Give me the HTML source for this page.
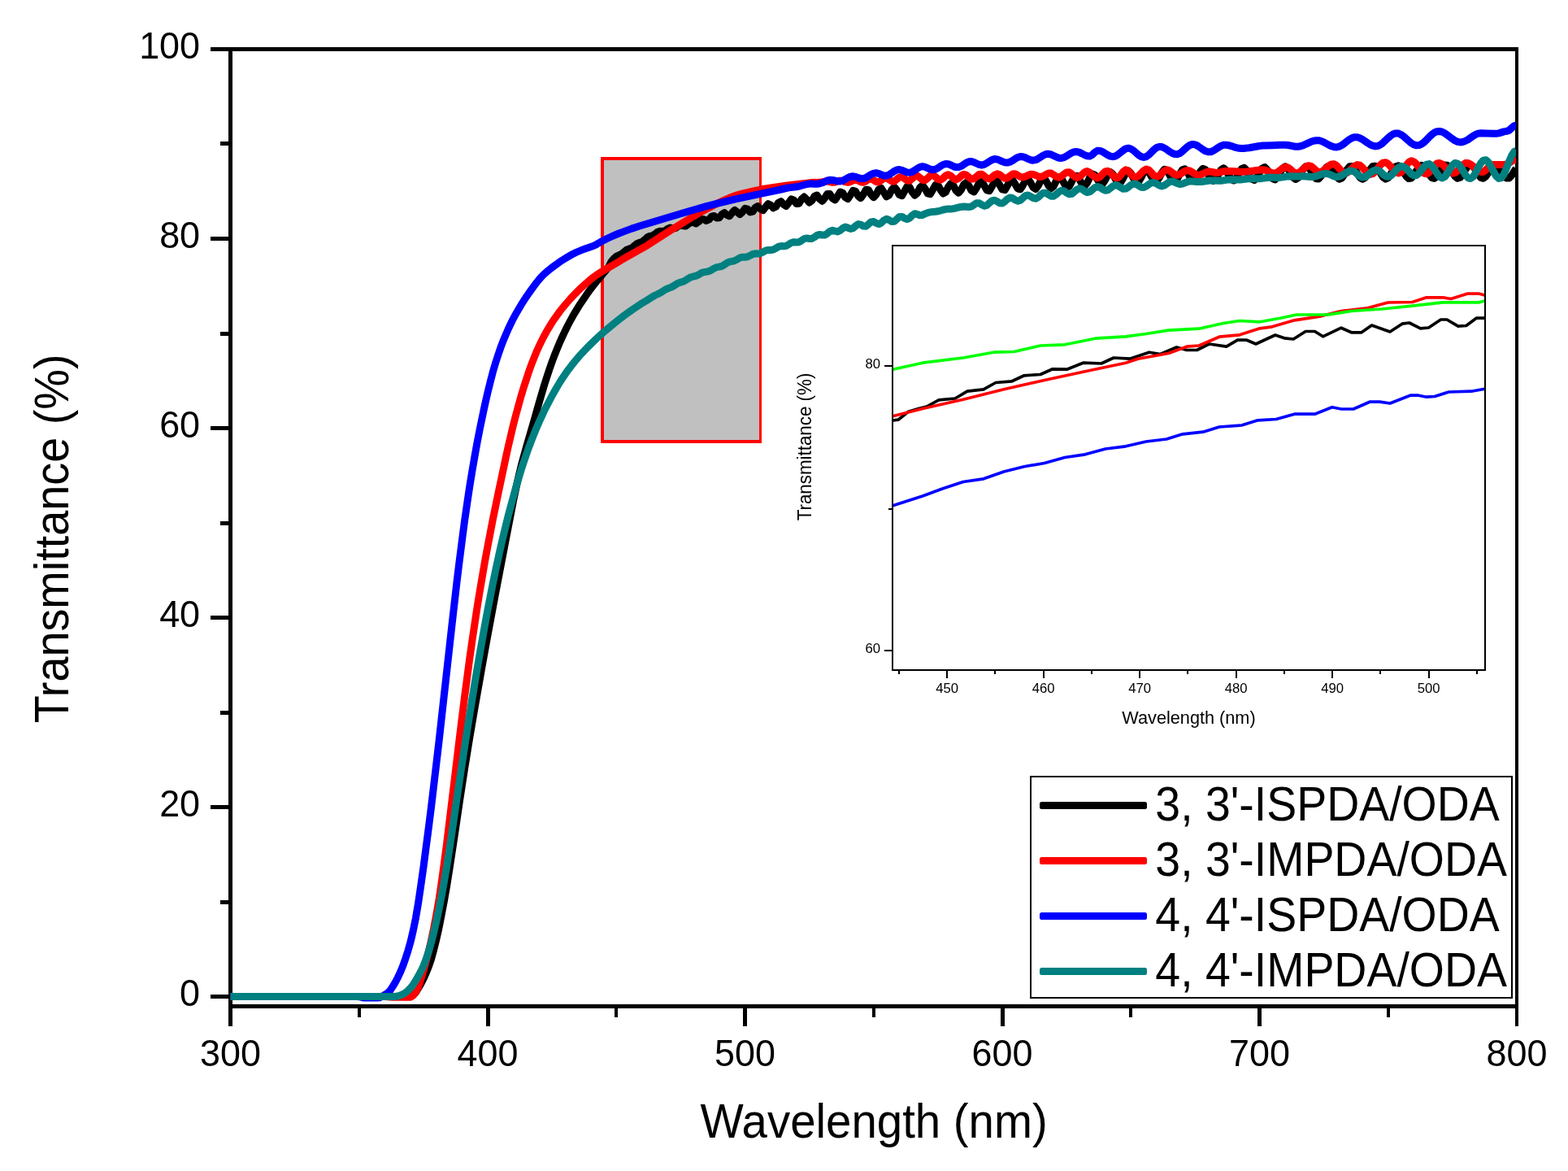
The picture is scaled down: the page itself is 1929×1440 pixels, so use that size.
<!DOCTYPE html>
<html lang="en">
<head>
<meta charset="utf-8">
<title>Transmittance vs Wavelength</title>
<style>
html,body{margin:0;padding:0;background:#ffffff;}
body{width:1929px;height:1440px;overflow:hidden;font-family:"Liberation Sans",sans-serif;}
svg{display:block;}
text{font-family:"Liberation Sans",sans-serif;}
</style>
</head>
<body>
<svg width="1929" height="1440" viewBox="0 0 1929 1440" font-family="Liberation Sans, sans-serif">
<defs><clipPath id="plotclip"><rect x="283" y="60" width="1582" height="1178"/></clipPath></defs>
<rect x="0" y="0" width="1929" height="1440" fill="#ffffff"/>
<g shape-rendering="crispEdges"><rect x="739" y="193" width="198" height="352" fill="#ff0000"/><rect x="743" y="197" width="191" height="344" fill="#c0c0c0"/></g>
<g fill="#000000" shape-rendering="crispEdges">
<rect x="281" y="58" width="5" height="1204"/>
<rect x="259" y="58" width="1609" height="5"/>
<rect x="1864" y="58" width="4" height="1204"/>
<rect x="281" y="1235" width="1587" height="5"/>
<rect x="259" y="1223.1" width="23" height="5"/>
<rect x="271" y="1106.6" width="11" height="5"/>
<rect x="259" y="990.1" width="23" height="5"/>
<rect x="271" y="873.5" width="11" height="5"/>
<rect x="259" y="757.0" width="23" height="5"/>
<rect x="271" y="640.5" width="11" height="5"/>
<rect x="259" y="524.0" width="23" height="5"/>
<rect x="271" y="407.5" width="11" height="5"/>
<rect x="259" y="290.9" width="23" height="5"/>
<rect x="271" y="174.4" width="11" height="5"/>
<rect x="439.6" y="1238" width="4.4" height="12.5"/>
<rect x="597.5" y="1238" width="5" height="24"/>
<rect x="756.0" y="1238" width="4.4" height="12.5"/>
<rect x="914.0" y="1238" width="5" height="24"/>
<rect x="1072.5" y="1238" width="4.4" height="12.5"/>
<rect x="1230.5" y="1238" width="5" height="24"/>
<rect x="1389.0" y="1238" width="4.4" height="12.5"/>
<rect x="1547.0" y="1238" width="5" height="24"/>
<rect x="1705.5" y="1238" width="4.4" height="12.5"/>
</g>
<g fill="#000000">
<text transform="translate(246.05,1237.40) scale(1,1.05)" font-size="44.9" text-anchor="end">0</text>
<text transform="translate(246.05,1004.36) scale(1,1.05)" font-size="44.9" text-anchor="end">20</text>
<text transform="translate(246.05,771.32) scale(1,1.05)" font-size="44.9" text-anchor="end">40</text>
<text transform="translate(246.05,538.28) scale(1,1.05)" font-size="44.9" text-anchor="end">60</text>
<text transform="translate(246.05,305.24) scale(1,1.05)" font-size="44.9" text-anchor="end">80</text>
<text transform="translate(246.05,72.20) scale(1,1.05)" font-size="44.9" text-anchor="end">100</text>
<text transform="translate(283.50,1311.45) scale(1,1.05)" font-size="44.9" text-anchor="middle">300</text>
<text transform="translate(600.00,1311.45) scale(1,1.05)" font-size="44.9" text-anchor="middle">400</text>
<text transform="translate(916.50,1311.45) scale(1,1.05)" font-size="44.9" text-anchor="middle">500</text>
<text transform="translate(1233.00,1311.45) scale(1,1.05)" font-size="44.9" text-anchor="middle">600</text>
<text transform="translate(1549.50,1311.45) scale(1,1.05)" font-size="44.9" text-anchor="middle">700</text>
<text transform="translate(1866.00,1311.45) scale(1,1.05)" font-size="44.9" text-anchor="middle">800</text>
<text transform="translate(1075.10,1399.00) scale(1,1.05)" font-size="56.4" text-anchor="middle">Wavelength (nm)</text>
<text transform="translate(84.00,662.35) rotate(-90) scale(1,1.05)" font-size="55.8" text-anchor="middle">Transmittance (%)</text>
</g>
<g fill="none" stroke-width="9" stroke-linejoin="round" stroke-linecap="butt" clip-path="url(#plotclip)">
<path stroke="#000000" d="M283.5,1225.5L501.9,1225.5L505.1,1225.1L508.2,1223.4L511.4,1220.5L514.5,1215.4L517.7,1210L520.9,1203.8L524,1196.9L527.2,1189.1L530.4,1179.7L533.5,1168.5L536.7,1155.6L539.9,1141.4L543,1125.7L546.2,1108.8L549.4,1090.7L552.5,1071.2L558.9,1029.6L565.2,986.5L571.5,945.6L574.7,926L577.8,906.8L584.2,869.4L593.7,815.7L600,781L609.5,730.2L622.2,663.9L631.6,615.4L634.8,600.2L638,586.2L641.1,573.2L644.3,561.3L647.5,550L657,517.2L663.3,494.9L669.6,473.5L672.8,463.5L676,453.9L679.1,445L682.3,436.5L685.5,428.6L688.6,421.1L691.8,414.1L695,407.4L698.1,401L701.3,395L704.4,389.3L707.6,383.9L710.8,378.6L713.9,373.7L717.1,368.9L723.4,359.7L726.6,355.4L729.8,351.3L736.1,343.4L748.8,328.3L751.9,322L755.1,318.2L758.2,315.4L764.6,312.4L770.9,307.3L777.2,304.9L780.4,302.3L783.6,299.6L786.7,298.3L789.9,297.4L793.1,294.9L796.2,291.9L799.4,290.4L802.6,289.8L805.7,287.9L808.9,285.3L812.1,284.3L815.2,284.6L818.4,283.6L821.5,281.2L824.7,280.1L827.9,280.9L831,280.6L834.2,278.3L837.4,276.8L840.5,277.7L843.7,278L850,273.1L853.2,273.8L856.4,274.9L859.5,272.7L862.7,269.5L865.9,269.7L869,271.5L872.2,270L875.4,266.2L878.5,265.5L881.7,268.1L884.9,267.8L888,263.6L891.2,261.7L894.3,264.5L897.5,265.7L900.7,261.7L903.8,258.4L907,260.8L910.2,263.6L913.3,260.8L916.5,256.4L919.7,257.2L922.8,261L926,260.2L929.2,255.2L932.3,253.6L935.5,257L938.7,258.6L945,250.6L948.1,252.3L951.3,255.8L954.5,254.3L957.6,249.2L960.8,247.7L964,251.4L967.1,253.4L970.3,249.4L973.5,244.9L976.6,246.2L979.8,250.5L983,250.2L986.1,244.9L989.3,242.1L992.5,245.4L995.6,249L998.8,246.8L1002,241.2L1005.1,240.1L1008.3,244.6L1011.5,247.4L1014.6,243.7L1017.8,238.4L1020.9,238.6L1024.1,243.8L1027.3,245.9L1030.4,241.4L1033.6,236.1L1036.8,237.2L1039.9,242.7L1043.1,244.6L1046.3,239.8L1049.4,234.4L1052.6,235.4L1055.8,241.2L1058.9,243.6L1062.1,239.1L1065.3,233.3L1068.4,233.5L1071.6,239.3L1074.8,242.8L1077.9,239.2L1081.1,232.9L1084.2,231.5L1087.4,236.7L1090.6,241.7L1093.7,240L1096.9,233.5L1100.1,229.9L1103.2,233.5L1106.4,239.6L1109.6,240.7L1115.9,229.5L1119.1,230.2L1122.2,236.2L1125.4,240.2L1128.6,237.3L1131.7,230.7L1134.9,227.9L1138,231.9L1141.2,237.8L1144.4,238.7L1147.5,233.4L1150.7,227.6L1153.9,227.7L1157,233.4L1160.2,238L1163.4,236.3L1166.5,229.9L1169.7,225.7L1172.9,228.1L1176,234.2L1179.2,237.2L1182.4,233.6L1185.5,227.1L1188.7,224.5L1191.9,228.3L1195,234.3L1198.2,235.9L1201.3,231.3L1204.5,225.1L1207.7,223.5L1210.8,228.1L1214,233.8L1217.2,234.6L1220.3,229.5L1223.5,223.5L1226.7,222.6L1229.8,227.4L1233,232.9L1236.2,233.6L1239.3,228.4L1242.5,222.5L1245.7,221.5L1248.8,226.2L1252,231.9L1255.2,232.8L1258.3,228L1261.5,222L1264.7,220.3L1267.8,224.5L1271,230.5L1274.1,232.4L1277.3,228.3L1280.5,221.9L1283.6,219L1286.8,222.2L1290,228.4L1293.1,231.6L1296.3,228.8L1299.5,222.3L1302.6,217.9L1305.8,219.4L1309,225.3L1312.1,230.1L1315.3,229.3L1318.5,223.5L1321.6,217.5L1324.8,216.3L1328,220.6L1331.1,226.5L1334.3,228.7L1337.4,225.1L1340.6,218.4L1343.8,213.9L1346.9,215.1L1350.1,220.7L1353.3,225.8L1356.4,226.2L1359.6,221.2L1362.8,214.7L1365.9,211.6L1369.1,214.2L1372.3,220.2L1375.4,224.9L1378.6,224.4L1381.8,219L1384.9,212.7L1388.1,210.1L1391.2,213.1L1394.4,219.2L1397.6,223.9L1400.7,223.5L1403.9,218.3L1407.1,211.9L1410.2,209L1413.4,211.4L1416.6,217.3L1419.7,222.5L1422.9,223.1L1426.1,218.7L1429.2,212.4L1432.4,208.3L1435.6,209.4L1438.7,214.8L1441.9,220.7L1445.1,223L1448.2,220.1L1451.4,214.1L1454.5,208.8L1457.7,207.8L1460.9,211.8L1464,217.9L1467.2,222.2L1470.4,221.8L1473.5,217L1476.7,210.8L1479.9,207.3L1483,208.7L1486.2,214L1489.4,219.8L1492.5,222.4L1495.7,220.2L1502,208.9L1505.2,206.8L1508.4,209.5L1511.5,215.3L1514.7,220.5L1517.8,222L1521,218.8L1524.2,212.9L1527.3,207.7L1530.5,206.3L1533.7,209.5L1536.8,215.3L1540,220.3L1543.2,221.4L1546.3,218L1549.5,212.1L1552.7,207L1555.8,205.6L1559,208.7L1562.2,214.4L1565.3,219.4L1568.5,220.9L1571.7,218L1574.8,212.2L1578,206.9L1581.2,204.8L1584.3,207.1L1590.6,218L1593.8,220.5L1597,218.7L1600.1,213.6L1603.3,207.9L1606.5,204.7L1609.6,205.5L1612.8,210L1616,215.8L1619.1,219.8L1622.3,219.9L1625.5,216.2L1628.6,210.4L1631.8,205.7L1635,204.3L1638.1,206.9L1644.5,217.6L1647.6,220.2L1650.8,219L1653.9,214.4L1657.1,208.7L1660.3,204.8L1663.4,204.4L1666.6,207.8L1669.8,213.2L1672.9,218.2L1676.1,220.3L1679.3,218.5L1682.4,213.8L1685.6,208.3L1688.8,204.5L1691.9,204.3L1695.1,207.5L1698.3,212.9L1701.4,217.8L1704.6,220.1L1707.8,218.7L1710.9,214.3L1714.1,208.8L1717.2,204.7L1720.4,203.7L1723.6,206.4L1729.9,216.6L1733.1,219.6L1736.2,219.1L1739.4,215.3L1742.6,209.9L1745.7,205.2L1748.9,203.2L1752.1,204.8L1755.2,209.3L1758.4,214.6L1761.6,218.6L1764.7,219.4L1767.9,216.7L1771,211.6L1774.2,206.4L1777.4,203.1L1780.5,203.3L1783.7,206.8L1786.9,212.1L1790,216.9L1793.2,219.3L1796.4,218.2L1799.5,214.1L1802.7,208.7L1805.9,204.3L1809,202.6L1812.2,204.5L1815.4,209L1818.5,214.4L1821.7,218.4L1824.9,219.3L1828,216.9L1831.2,212L1834.3,206.7L1837.5,203.2L1840.7,202.8L1843.8,205.8L1850.2,216L1853.3,219.1L1856.5,219L1859.7,215.7L1862.8,210.5L1865.2,206.9"/>
<path stroke="#ff0000" d="M283.5,1225.5L473.4,1225.5L476.6,1225.7L479.7,1226.1L482.9,1226.3L505.1,1226.3L508.2,1224.2L511.4,1220.1L514.5,1214L517.7,1204.1L520.9,1193.7L524,1182.5L527.2,1170.3L530.4,1157L533.5,1142.2L536.7,1125.7L539.9,1107.3L543,1086.5L546.2,1063.4L549.4,1038.8L555.7,987.2L565.2,908.2L571.5,857.4L574.7,833.1L577.8,809.7L581,787.2L584.2,765.7L587.3,745.2L590.5,725.6L593.7,706.8L596.8,688.8L600,671.6L606.3,638.9L612.7,607.8L622.2,563L625.3,548.9L628.5,535.2L631.6,522.1L634.8,509.8L638,498.1L641.1,486.9L644.3,476.4L647.5,466.5L650.6,457.1L653.8,448.2L657,440.1L660.1,432.4L663.3,425.4L666.5,418.8L669.6,412.7L672.8,407L676,401.6L679.1,396.6L682.3,391.8L685.5,387.3L688.6,383L691.8,379L695,375.1L701.3,367.9L707.6,361.2L710.8,358L713.9,354.9L720.3,349.2L726.6,343.6L729.8,341.1L732.9,338.8L736.1,336.7L745.6,330.9L758.2,323.6L770.9,316L789.9,305.4L796.2,301.8L824.7,283.4L837.4,275.6L853.2,266L859.5,262.4L865.9,258.9L881.7,250.6L888,247.4L891.2,246L897.5,243.3L903.8,240.9L907,239.9L913.3,238.2L926,235.2L935.5,233.1L938.7,232.5L945,231.5L967.1,228.3L979.8,226.7L986.1,225.9L992.5,225.3L998.8,224.4L1002,224.3L1005.1,224.4L1008.3,224.3L1014.6,223.1L1017.8,223.1L1024.1,224.2L1027.3,223.9L1030.4,222.8L1033.6,222.1L1036.8,222.5L1039.9,223.7L1043.1,224.3L1046.3,223.4L1049.4,221.9L1052.6,221.2L1055.8,222.1L1058.9,223.8L1062.1,224.3L1065.3,222.7L1068.4,220.6L1071.6,220L1074.8,221.5L1077.9,223.6L1081.1,223.9L1084.2,221.7L1087.4,219.1L1090.6,218.7L1093.7,220.7L1096.9,222.9L1100.1,223L1103.2,220.5L1106.4,217.9L1109.6,217.5L1112.7,219.6L1115.9,222L1119.1,222.2L1122.2,219.6L1125.4,216.8L1128.6,216.2L1131.7,218.5L1134.9,221.2L1138,221.6L1141.2,219.2L1144.4,216.1L1147.5,215.2L1150.7,217.4L1153.9,220.4L1157,221.3L1160.2,219.2L1163.4,216L1166.5,214.7L1169.7,216.3L1172.9,219.3L1176,220.9L1179.2,219.5L1182.4,216.4L1185.5,214.4L1188.7,215.2L1191.9,218L1195,220.2L1198.2,219.8L1204.5,214.5L1207.7,214.2L1210.8,216.4L1214,219.1L1217.2,219.9L1220.3,218.1L1223.5,215.2L1226.7,213.7L1229.8,214.7L1233,217.4L1236.2,219.3L1239.3,218.9L1242.5,216.4L1245.7,214.1L1248.8,213.8L1252,215.5L1255.2,217.4L1258.3,218.1L1261.5,217.1L1264.7,215.4L1267.8,214.3L1271,214.5L1274.1,215.5L1277.3,217L1280.5,217.5L1283.6,216.5L1286.8,214.5L1290,213L1293.1,213.1L1296.3,215L1299.5,217.3L1302.6,218.2L1305.8,216.8L1309,214.1L1312.1,211.9L1315.3,211.8L1318.5,214L1321.6,216.9L1324.8,218.4L1328,217.5L1334.3,211.7L1337.4,210.6L1340.6,212.1L1343.8,215.4L1346.9,217.3L1350.1,219L1353.3,217.6L1356.4,214.1L1359.6,211L1362.8,210.3L1365.9,212.3L1369.1,215.7L1372.3,218.4L1375.4,218.7L1378.6,215.6L1381.8,211.1L1384.9,208.9L1388.1,210.2L1391.2,213.8L1394.4,217.2L1397.6,218.1L1400.7,216.3L1407.1,209.7L1410.2,208.1L1413.4,209.1L1416.6,212.4L1419.7,215.9L1422.9,217.5L1426.1,216.3L1432.4,210.1L1435.6,208.8L1438.7,209.8L1445.1,214.5L1448.2,215.3L1451.4,214.3L1457.7,210.4L1460.9,209.5L1464,210.2L1467.2,212.1L1470.4,214.2L1473.5,215.2L1476.7,214.9L1479.9,213.6L1483,212L1486.2,211L1489.4,211.1L1495.7,212.4L1498.9,212.3L1505.2,210.7L1508.4,210.4L1514.7,210.6L1524.2,211.1L1530.5,211.2L1533.7,211L1536.8,210.7L1546.3,209.4L1549.5,209L1552.7,208.8L1555.8,208.9L1559,210L1562.2,211.6L1565.3,212.8L1568.5,213L1571.7,211.7L1578,206.8L1581.2,205.5L1584.3,205.9L1587.5,208.2L1590.6,211L1593.8,212.9L1597,212.8L1600.1,210.8L1603.3,207.8L1606.5,205L1609.6,203.7L1612.8,204.4L1616,206.9L1619.1,209.8L1622.3,211.6L1625.5,211.3L1628.6,209.4L1635,203.7L1638.1,201.9L1641.3,201.7L1644.5,203.8L1650.8,210.9L1653.9,212.9L1657.1,212.5L1660.3,210.3L1663.4,207.1L1666.6,204.2L1669.8,202.6L1672.9,203.1L1676.1,205.9L1679.3,209.7L1682.4,213L1685.6,214.5L1688.8,213.7L1691.9,210.7L1698.3,202.7L1701.4,200.1L1704.6,199.7L1707.8,201.5L1710.9,204.8L1714.1,208.5L1717.2,211.6L1720.4,213L1723.6,212L1726.7,208.4L1729.9,203.6L1733.1,199.5L1736.2,197.8L1739.4,198.9L1742.6,201.9L1748.9,210.3L1752.1,213.1L1755.2,213.8L1758.4,211.9L1761.6,208.1L1764.7,203.8L1767.9,200.9L1771,200.4L1774.2,202L1777.4,204.9L1780.5,208.4L1783.7,211.3L1786.9,212.9L1790,212.6L1793.2,210.2L1799.5,202.8L1802.7,200.6L1805.9,200.5L1809,202.1L1812.2,204.6L1815.4,207.6L1818.5,210.1L1821.7,211.5L1824.9,211.3L1828,208.9L1831.2,205.5L1834.3,203L1837.5,202.5L1850.2,202.5L1853.3,202L1856.5,200.4L1859.7,198.3L1862.8,196.8L1865.2,196.4"/>
<path stroke="#0000ff" d="M283.5,1225.5L438.6,1225.5L441.8,1225.7L444.9,1226.5L448.1,1227L463.9,1227L467.1,1226.8L470.2,1225.1L476.6,1221.3L479.7,1218.4L482.9,1213.6L486.1,1208.4L489.2,1202.5L492.4,1195.7L495.6,1188L498.7,1179.2L501.9,1169.3L505.1,1158.1L508.2,1144.9L511.4,1129.3L514.5,1110.9L517.7,1089.4L520.9,1066.8L524,1043.2L527.2,1018.7L530.4,993.4L533.5,967.3L539.9,912.9L555.7,771L562,715.8L565.2,689.6L568.4,664.7L571.5,641L574.7,618.8L577.8,598L581,578.4L584.2,560.1L587.3,542.8L590.5,526.5L593.7,511.1L596.8,496.5L600,482.6L603.2,469.6L606.3,457.6L609.5,446.7L612.7,436.8L615.8,427.7L619,419.3L622.2,411.7L625.3,404.5L628.5,397.8L631.6,391.6L634.8,385.7L638,380.2L641.1,374.9L644.3,369.9L647.5,365.1L650.6,360.5L657,351.7L660.1,347.5L663.3,343.6L666.5,340L669.6,336.9L672.8,334.1L676,331.5L679.1,329L685.5,324.3L688.6,322.1L691.8,320L698.1,316.1L704.4,312.5L707.6,310.9L710.8,309.5L717.1,306.9L720.3,305.7L729.8,302.4L732.9,301.1L736.1,299.2L739.3,297.2L745.6,294L748.8,292.5L755.1,289.7L761.4,287L767.7,284.6L777.2,281.1L783.6,279L789.9,277L834.2,263.7L856.4,257.2L869,253.6L884.9,249.6L903.8,245.1L916.5,242.4L945,236.4L960.8,233L967.1,231.5L970.3,230.9L979.8,229.8L983,229.2L989.3,227.3L992.5,226.5L995.6,226L998.8,226.1L1002,226.3L1005.1,226.3L1008.3,225.8L1011.5,224.8L1017.8,222L1020.9,221.3L1024.1,221.4L1030.4,222.8L1033.6,223L1036.8,222.2L1039.9,220.5L1043.1,218.6L1046.3,217.2L1049.4,216.8L1052.6,217.4L1055.8,218.6L1058.9,219.6L1062.1,219.6L1065.3,218.6L1068.4,216.6L1071.6,214.5L1074.8,213.1L1077.9,212.7L1081.1,213.5L1084.2,214.8L1087.4,215.9L1090.6,216L1093.7,214.9L1096.9,212.8L1100.1,210.5L1103.2,208.9L1106.4,208.5L1109.6,209.3L1112.7,210.7L1115.9,211.9L1119.1,212.3L1122.2,211.4L1125.4,209.4L1128.6,207.1L1131.7,205.4L1134.9,204.7L1138,205.3L1144.4,208.1L1147.5,208.8L1150.7,208.3L1153.9,206.6L1157,204.4L1160.2,202.5L1163.4,201.5L1166.5,201.7L1169.7,203L1172.9,204.6L1176,205.6L1179.2,205.6L1182.4,204.4L1188.7,200.2L1191.9,198.8L1195,198.5L1198.2,199.5L1201.3,201L1204.5,202.4L1207.7,203L1210.8,202.3L1214,200.6L1217.2,198.5L1220.3,196.6L1223.5,195.6L1226.7,195.9L1229.8,197.1L1233,198.6L1236.2,199.8L1239.3,200.1L1242.5,199.2L1245.7,197.5L1248.8,195.3L1252,193.5L1255.2,192.6L1258.3,192.7L1261.5,193.8L1264.7,195.4L1267.8,196.7L1271,197.2L1274.1,196.6L1277.3,195.1L1283.6,191L1286.8,189.6L1290,189.3L1293.1,190L1296.3,191.5L1299.5,193.1L1302.6,194.2L1305.8,194.4L1309,193.6L1312.1,191.9L1315.3,189.8L1318.5,187.9L1321.6,186.7L1324.8,186.5L1328,187.4L1331.1,188.9L1334.3,190.6L1337.4,191.8L1340.6,192.1L1343.8,190.3L1346.9,187.2L1350.1,185.2L1353.3,185.4L1356.4,186.7L1362.8,190.6L1365.9,192.1L1369.1,192.7L1372.3,192L1375.4,190.1L1381.8,184.9L1384.9,182.9L1388.1,182.2L1391.2,183L1394.4,185L1400.7,190.6L1403.9,192.6L1407.1,193.4L1410.2,192.6L1413.4,190.4L1419.7,184L1422.9,181.5L1426.1,180.4L1429.2,180.6L1432.4,182L1435.6,184L1438.7,186.3L1441.9,188.3L1445.1,189.5L1448.2,189.7L1451.4,188.6L1454.5,186.2L1460.9,180.4L1464,178.3L1467.2,177.4L1470.4,177.9L1473.5,179.4L1476.7,181.6L1479.9,183.9L1483,185.8L1486.2,186.8L1489.4,186.7L1492.5,185.5L1495.7,183.5L1498.9,181.3L1502,179.4L1505.2,178.3L1508.4,178.2L1511.5,178.7L1514.7,179.6L1521,181.7L1524.2,182.3L1527.3,182.5L1530.5,182.4L1533.7,182.1L1536.8,181.7L1549.5,179.5L1552.7,179.1L1555.8,178.9L1565.3,178.7L1574.8,178.3L1581.2,178.2L1584.3,178.5L1590.6,179.7L1593.8,180.2L1597,180.3L1600.1,179.8L1603.3,178.7L1612.8,174.3L1616,173.2L1619.1,172.7L1622.3,172.7L1625.5,173.5L1628.6,174.9L1635,178.4L1638.1,179.8L1641.3,180.8L1644.5,181L1647.6,180.2L1650.8,178.6L1653.9,176.3L1657.1,173.7L1660.3,171.4L1663.4,169.6L1666.6,168.7L1669.8,168.8L1672.9,169.8L1676.1,171.4L1682.4,175.8L1685.6,177.8L1688.8,179.2L1691.9,179.9L1695.1,179.5L1698.3,178L1701.4,175.6L1707.8,169.5L1710.9,166.8L1714.1,164.8L1717.2,163.9L1720.4,164.1L1723.6,165.5L1726.7,167.7L1733.1,173.4L1736.2,176L1739.4,177.9L1742.6,178.8L1745.7,178.6L1748.9,177.2L1752.1,174.8L1755.2,171.7L1758.4,168.4L1761.6,165.4L1764.7,163L1767.9,161.7L1771,161.5L1774.2,162.2L1777.4,163.8L1780.5,166L1786.9,170.8L1790,172.9L1793.2,174.3L1796.4,174.9L1799.5,174.6L1802.7,173.4L1805.9,171.7L1812.2,167.3L1815.4,165.4L1818.5,164.1L1821.7,163.7L1828,163.9L1837.5,164.3L1840.7,164.3L1843.8,163.9L1850.2,161.9L1853.3,161.4L1856.5,160.4L1859.7,157.4L1862.8,154.7L1865.2,154"/>
<path stroke="#008080" d="M283.5,1225.5L486.1,1225.5L489.2,1225L492.4,1224L495.6,1222.7L498.7,1220.7L501.9,1218.2L505.1,1214.9L508.2,1210.9L511.4,1205.9L514.5,1200.5L517.7,1194.6L520.9,1188L524,1180L527.2,1170.4L530.4,1159.3L533.5,1147.2L536.7,1133.4L539.9,1118.5L543,1102.6L546.2,1085.2L549.4,1066.4L552.5,1046.5L555.7,1025.4L562,981.9L568.4,939.2L574.7,898.1L581,858.6L587.3,820.7L590.5,802.4L596.8,766.9L600,749.9L606.3,717.6L609.5,702.2L612.7,687.5L615.8,673.4L619,659.8L622.2,646.6L625.3,633.9L628.5,621.8L634.8,598.9L638,588.1L641.1,577.9L644.3,568.2L647.5,558.9L650.6,550.1L653.8,541.7L657,533.7L660.1,526.1L663.3,518.8L666.5,511.8L669.6,505.1L672.8,498.7L676,492.6L679.1,486.7L682.3,481L685.5,475.5L688.6,470.3L691.8,465.3L695,460.6L698.1,456.1L701.3,451.9L704.4,447.8L707.6,443.9L710.8,440.1L713.9,436.5L717.1,433.1L723.4,426.5L729.8,420.2L736.1,414.3L742.4,408.6L748.8,403.2L755.1,398L761.4,393L767.7,388.1L774.1,383.5L780.4,379.1L786.7,374.9L789.9,372.8L796.2,369.1L802.6,365L805.7,363.3L808.9,361.8L812.1,360.2L818.4,356.2L821.5,354.8L824.7,353.6L827.9,352.1L831,350.1L834.2,348.2L837.4,347.1L840.5,346.2L843.7,344.6L846.9,342.5L850,340.8L856.4,339.2L859.5,337.8L862.7,335.8L865.9,334.6L869,334.2L872.2,333.6L875.4,332L878.5,330L881.7,328.6L884.9,328.1L888,327.3L891.2,325.5L894.3,323.3L897.5,321.9L900.7,321.4L903.8,320.6L907,318.9L910.2,317L913.3,316.2L916.5,316.2L919.7,315.8L922.8,314.3L926,312.5L929.2,311.8L932.3,312L935.5,311.6L938.7,310L941.8,308.2L945,307.4L948.1,307.5L951.3,307L954.5,305.3L957.6,303.4L960.8,302.6L964,302.8L967.1,302.4L970.3,300.5L973.5,298.5L976.6,297.7L979.8,298L983,297.7L986.1,295.8L989.3,293.6L992.5,292.9L995.6,293.5L998.8,293.4L1002,291.6L1005.1,289.3L1008.3,288.4L1011.5,289.1L1014.6,289.1L1017.8,287.2L1020.9,284.4L1024.1,283.3L1027.3,284.2L1030.4,284.9L1033.6,283.4L1036.8,280.6L1039.9,279.1L1043.1,280.1L1046.3,281.5L1049.4,280.7L1052.6,277.8L1055.8,275.6L1058.9,276.2L1062.1,278.1L1065.3,278.2L1068.4,275.7L1071.6,272.9L1074.8,272.5L1077.9,274.4L1081.1,275.6L1084.2,274.1L1087.4,270.9L1090.6,269.3L1093.7,270.5L1096.9,272.5L1100.1,272.3L1106.4,266.7L1109.6,266.4L1112.7,268.3L1115.9,269.6L1119.1,268.2L1122.2,264.9L1125.4,262.7L1128.6,263.5L1131.7,264.7L1134.9,264.4L1138,262.9L1141.2,261.7L1144.4,260.9L1147.5,260.5L1150.7,260.3L1153.9,259.8L1157,259L1160.2,258L1163.4,257.3L1166.5,257.1L1169.7,257L1172.9,256.6L1176,255.9L1179.2,255L1182.4,254.4L1185.5,254.1L1188.7,254.3L1191.9,254.6L1195,253.9L1201.3,249.8L1204.5,249.7L1207.7,251.8L1210.8,253.3L1214,252.5L1220.3,246.8L1223.5,246.2L1226.7,247.8L1229.8,249.8L1233,250.1L1236.2,247.9L1239.3,244.8L1242.5,243L1245.7,243.7L1248.8,245.8L1252,247.2L1255.2,246.3L1261.5,240.7L1264.7,240L1267.8,241.5L1271,243.6L1274.1,244.2L1277.3,242.5L1280.5,239.4L1283.6,237.2L1286.8,237.3L1293.1,241.2L1296.3,241.2L1299.5,238.9L1302.6,235.9L1305.8,234.3L1309,234.9L1312.1,237.1L1315.3,238.8L1318.5,238.4L1321.6,235.9L1324.8,233.1L1328,231.7L1331.1,232.6L1334.3,234.9L1337.4,236.5L1340.6,235.9L1343.8,233.4L1346.9,230.7L1350.1,229.5L1353.3,230.5L1356.4,232.7L1359.6,234.2L1362.8,233.8L1365.9,231.5L1369.1,228.9L1372.3,227.6L1375.4,228.4L1378.6,230.5L1381.8,232.2L1384.9,232.1L1388.1,230.1L1391.2,227.6L1394.4,226L1397.6,226.4L1403.9,230.2L1407.1,230.5L1410.2,229L1413.4,226.6L1416.6,224.7L1419.7,224.5L1422.9,226L1426.1,228L1429.2,228.9L1432.4,228L1438.7,223.6L1441.9,222.9L1445.1,223.9L1448.2,225.5L1451.4,226.4L1454.5,226.1L1460.9,223.5L1464,222.8L1467.2,223L1470.4,223.4L1473.5,223.6L1476.7,223.5L1479.9,223.2L1486.2,222.3L1489.4,222L1492.5,222L1498.9,222.3L1502,222.2L1511.5,220.9L1514.7,220.8L1521,221.1L1524.2,221.1L1527.3,220.9L1533.7,220L1536.8,219.7L1540,219.6L1546.3,219.8L1549.5,219.8L1552.7,219.4L1559,218.5L1562.2,218.2L1565.3,218.2L1571.7,218.4L1574.8,218.3L1578,217.9L1584.3,216.9L1587.5,216.7L1597,216.9L1600.1,216.7L1603.3,216.8L1612.8,217.5L1616,217.4L1619.1,216.7L1625.5,214.4L1628.6,213.6L1631.8,213.5L1635,214.2L1641.3,216.8L1644.5,217.5L1647.6,217.1L1650.8,215.7L1657.1,211.7L1660.3,210.3L1663.4,210L1666.6,211.4L1672.9,216.8L1676.1,218.1L1679.3,217.6L1682.4,215.6L1685.6,212.9L1688.8,210.4L1691.9,209L1695.1,209.2L1698.3,211.3L1701.4,214.3L1704.6,216.7L1707.8,217.4L1710.9,216.1L1714.1,213.1L1717.2,209.4L1720.4,206.3L1723.6,204.5L1726.7,204.9L1729.9,207.2L1733.1,210.6L1736.2,213.9L1739.4,215.8L1742.6,215.5L1745.7,213L1752.1,204.9L1755.2,202.2L1758.4,201.6L1761.6,203.9L1764.7,208.3L1767.9,213.4L1771,217.4L1774.2,219L1777.4,217.5L1780.5,213.3L1783.7,207.8L1786.9,203L1790,200.5L1793.2,201.1L1796.4,204.5L1802.7,214.9L1805.9,218.6L1809,219.6L1812.2,217.4L1815.4,212.5L1818.5,206.3L1821.7,200.6L1824.9,197.1L1828,196.7L1831.2,199.6L1834.3,205L1837.5,211.2L1840.7,216.6L1843.8,219.4L1847,218.9L1850.2,214.3L1853.3,207L1856.5,198.6L1859.7,191.2L1862.8,186.5L1865.2,185.5"/>
</g>
<g fill="none" stroke-width="3.7" stroke-linejoin="round">
<path stroke="#000000" d="M1098.5,517.0 L1105.0,516.2 L1117.5,506.2 L1130.0,502.5 L1140.0,500.0 L1155.0,491.8 L1175.0,490.0 L1190.0,481.2 L1210.0,478.8 L1225.0,470.5 L1245.0,468.8 L1260.0,461.8 L1280.0,460.5 L1295.0,453.8 L1312.5,454.2 L1332.5,446.2 L1355.0,447.0 L1370.0,440.0 L1390.0,441.2 L1413.8,433.2 L1427.5,435.5 L1447.5,427.0 L1460.0,430.5 L1472.5,430.5 L1487.5,423.0 L1508.8,426.2 L1522.5,418.2 L1533.8,418.2 L1545.0,423.0 L1568.8,412.0 L1580.0,415.8 L1591.2,417.0 L1606.2,407.5 L1617.5,407.5 L1627.5,413.8 L1650.0,403.2 L1662.5,408.8 L1675.0,408.8 L1687.5,400.0 L1710.0,408.0 L1725.0,398.2 L1733.8,397.0 L1747.5,403.8 L1757.5,403.0 L1772.5,393.0 L1780.0,393.0 L1793.8,401.2 L1803.8,400.5 L1816.2,391.2 L1826.5,391.2"/>
<path stroke="#ff0000" d="M1098.5,511.8 L1135.0,502.5 L1185.0,491.2 L1235.0,478.8 L1285.0,467.5 L1335.0,456.8 L1385.0,446.2 L1400.0,441.2 L1437.5,434.5 L1460.0,426.2 L1475.0,425.0 L1500.0,414.2 L1525.0,411.8 L1550.0,403.8 L1565.0,401.8 L1592.5,393.8 L1625.0,388.8 L1650.0,382.5 L1682.5,378.8 L1707.5,372.0 L1737.5,371.5 L1755.0,365.8 L1775.0,365.8 L1785.0,367.5 L1805.0,361.2 L1820.0,361.2 L1826.5,363.0"/>
<path stroke="#00ff00" d="M1098.5,454.2 L1135.0,446.2 L1185.0,440.0 L1222.5,433.2 L1247.5,432.5 L1280.0,425.0 L1310.0,423.8 L1347.5,416.2 L1385.0,413.8 L1410.0,410.5 L1437.5,406.2 L1475.0,404.2 L1505.0,397.5 L1525.0,394.5 L1550.0,395.8 L1575.0,391.2 L1595.0,387.0 L1635.0,386.8 L1662.5,382.5 L1700.0,380.0 L1737.5,376.2 L1775.0,371.8 L1800.0,371.8 L1820.0,371.8 L1826.5,370.0"/>
<path stroke="#0000ff" d="M1098.5,621.8 L1135.0,610.0 L1160.0,600.8 L1185.0,592.5 L1210.0,588.8 L1235.0,580.0 L1260.0,573.8 L1285.0,569.5 L1310.0,562.5 L1335.0,558.8 L1360.0,552.0 L1385.0,548.8 L1410.0,543.0 L1435.0,540.0 L1455.0,533.8 L1480.0,531.2 L1500.0,525.0 L1527.5,523.0 L1547.5,516.8 L1570.0,515.5 L1592.5,509.2 L1617.5,509.2 L1638.8,500.8 L1650.0,503.0 L1665.0,503.0 L1685.0,494.2 L1697.5,494.2 L1710.0,496.0 L1735.0,486.2 L1745.0,486.2 L1755.0,488.2 L1765.0,487.5 L1782.5,482.0 L1810.0,481.2 L1826.5,478.2"/>
</g>
<g fill="#000000" shape-rendering="crispEdges">
<rect x="1097" y="301" width="2" height="524"/>
<rect x="1097" y="823" width="731" height="2"/>
<rect x="1097" y="301" width="731" height="2"/>
<rect x="1826" y="301" width="2" height="524"/>
<rect x="1088" y="448.9" width="10" height="2"/>
<rect x="1093" y="624.6" width="5" height="2"/>
<rect x="1088" y="799.1" width="10" height="2"/>
<rect x="1104.8" y="824" width="2" height="5"/>
<rect x="1164.1" y="824" width="2" height="10"/>
<rect x="1223.3" y="824" width="2" height="5"/>
<rect x="1282.6" y="824" width="2" height="10"/>
<rect x="1341.8" y="824" width="2" height="5"/>
<rect x="1401.1" y="824" width="2" height="10"/>
<rect x="1460.3" y="824" width="2" height="5"/>
<rect x="1519.6" y="824" width="2" height="10"/>
<rect x="1578.8" y="824" width="2" height="5"/>
<rect x="1638.1" y="824" width="2" height="10"/>
<rect x="1697.3" y="824" width="2" height="5"/>
<rect x="1756.6" y="824" width="2" height="10"/>
<rect x="1815.8" y="824" width="2" height="5"/>
</g>
<g fill="#000000">
<text transform="translate(1083.00,453.00) scale(1,1.04)" font-size="16.7" text-anchor="end">80</text>
<text transform="translate(1083.00,803.20) scale(1,1.04)" font-size="16.7" text-anchor="end">60</text>
<text transform="translate(1165.10,852.20) scale(1,1.04)" font-size="16.7" text-anchor="middle">450</text>
<text transform="translate(1283.60,852.20) scale(1,1.04)" font-size="16.7" text-anchor="middle">460</text>
<text transform="translate(1402.10,852.20) scale(1,1.04)" font-size="16.7" text-anchor="middle">470</text>
<text transform="translate(1520.60,852.20) scale(1,1.04)" font-size="16.7" text-anchor="middle">480</text>
<text transform="translate(1639.10,852.20) scale(1,1.04)" font-size="16.7" text-anchor="middle">490</text>
<text transform="translate(1757.60,852.20) scale(1,1.04)" font-size="16.7" text-anchor="middle">500</text>
<text transform="translate(1462.50,889.50) scale(1,1.04)" font-size="21.7" text-anchor="middle">Wavelength (nm)</text>
<text transform="translate(998.10,549.50) rotate(-90) scale(1,1.04)" font-size="22.35" text-anchor="middle">Transmittance (%)</text>
</g>
<rect x="1268" y="955" width="592" height="272" fill="#ffffff" stroke="#000000" stroke-width="2" shape-rendering="crispEdges"/>
<rect x="1279" y="986.1" width="132" height="9" rx="2.5" ry="2.5" fill="#000000"/>
<g fill="#000000"><text transform="translate(1421.30,1008.75) scale(1,1.06)" font-size="55.45">3, 3'-ISPDA/ODA</text></g>
<rect x="1279" y="1054.1" width="132" height="9" rx="2.5" ry="2.5" fill="#ff0000"/>
<g fill="#000000"><text transform="translate(1421.30,1076.80) scale(1,1.06)" font-size="55.45">3, 3'-IMPDA/ODA</text></g>
<rect x="1279" y="1122.1" width="132" height="9" rx="2.5" ry="2.5" fill="#0000ff"/>
<g fill="#000000"><text transform="translate(1421.30,1144.85) scale(1,1.06)" font-size="55.45">4, 4'-ISPDA/ODA</text></g>
<rect x="1279" y="1190.1" width="132" height="9" rx="2.5" ry="2.5" fill="#008080"/>
<g fill="#000000"><text transform="translate(1421.30,1212.90) scale(1,1.06)" font-size="55.45">4, 4'-IMPDA/ODA</text></g>
</svg>
</body>
</html>
